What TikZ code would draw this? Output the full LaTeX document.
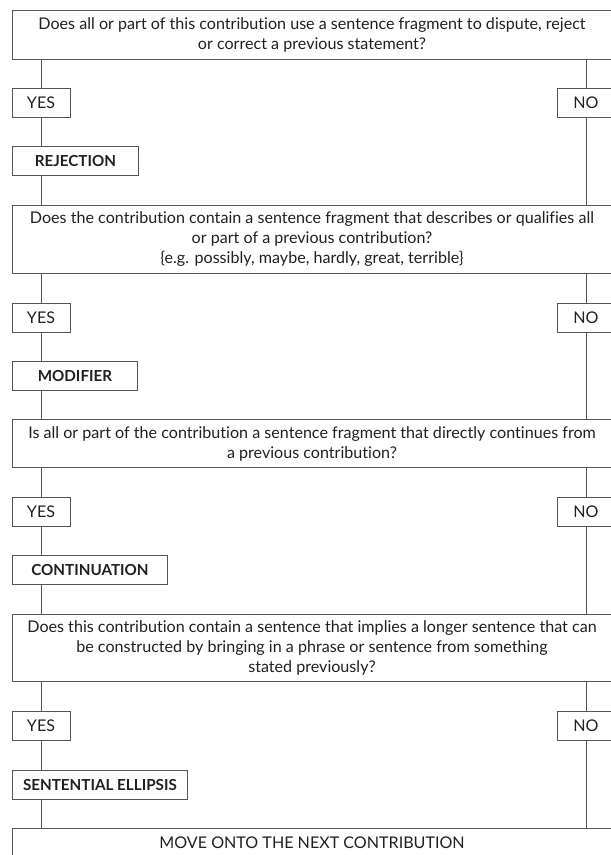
\documentclass[tikz,border=0pt]{standalone}
\usepackage{fontspec}
\setmainfont{Lato}[Ligatures=NoCommon]
\usetikzlibrary{positioning}
\definecolor{ink}{HTML}{231F20}
\definecolor{rule}{HTML}{555555}
\newcommand{\flowsize}{\fontsize{16.1}{20}\selectfont}
\tikzset{
	box/.style={draw=rule, line width=0.9pt, text=ink, inner sep=0pt},
	question/.style={box, align=center, minimum width=600pt},
	answer/.style={box, minimum width=58pt, minimum height=29pt},
	outcome/.style={box, anchor=west, minimum height=29pt, font=\fontsize{15.2}{20}\selectfont\bfseries},
	link/.style={draw=rule, line width=0.9pt}
}

\begin{document}
\begin{tikzpicture}
		[x=1pt, y=-1pt, font=\flowsize]
		\useasboundingbox (0,0) rectangle (611,855);
		% questions
		\node[question, minimum height=48.6pt] (Q1) at (312,35)
			{Does all or part of this contribution use a sentence fragment to dispute, reject\\or correct a previous statement?};
		\node[question, minimum height=68pt] (Q2) at (312,239)
			{Does the contribution contain a sentence fragment that describes or qualifies all\\or part of a previous contribution?\\\{e.g. possibly, maybe, hardly, great, terrible\}};
		\node[question, minimum height=48.4pt] (Q3) at (312,443.5)
			{Is all or part of the contribution a sentence fragment that directly continues from\\a previous contribution?};
		\node[question, minimum height=67.4pt] (Q4) at (312,648)
			{Does this contribution contain a sentence that implies a longer sentence that can\\be constructed by bringing in a phrase or sentence from something\\stated previously?};
		\node[question, minimum height=30pt] (E) at (312,843) {MOVE ONTO THE NEXT CONTRIBUTION};
		% answers
		\node[answer] (Y1) at (41,102.5) {YES};
		\node[answer] (N1) at (586,102.5) {NO};
		\node[answer] (Y2) at (41,317.5) {YES};
		\node[answer] (N2) at (586,317.5) {NO};
		\node[answer] (Y3) at (41,511.5) {YES};
		\node[answer] (N3) at (586,511.5) {NO};
		\node[answer] (Y4) at (41,725.5) {YES};
		\node[answer] (N4) at (586,725.5) {NO};
		% outcomes
		\node[outcome, minimum width=126pt] (R) at (12,161) {REJECTION};
		\node[outcome, minimum width=125pt] (M) at (12,375.5) {MODIFIER};
		\node[outcome, minimum width=155pt] (C) at (12,570) {CONTINUATION};
		\node[outcome, minimum width=175pt] (S) at (12,784.7) {SENTENTIAL ELLIPSIS};
		% left branch
		\draw[link] (Q1.south -| Y1) -- (Y1) (Y1) -- (R.north -| Y1) (R.south -| Y1) -- (Q2.north -| Y1);
		\draw[link] (Q2.south -| Y2) -- (Y2) (Y2) -- (M.north -| Y2) (M.south -| Y2) -- (Q3.north -| Y2);
		\draw[link] (Q3.south -| Y3) -- (Y3) (Y3) -- (C.north -| Y3) (C.south -| Y3) -- (Q4.north -| Y3);
		\draw[link] (Q4.south -| Y4) -- (Y4) (Y4) -- (S.north -| Y4) (S.south -| Y4) -- (E.north -| Y4);
		% right branch
		\draw[link] (Q1.south -| N1) -- (N1) (N1) -- (Q2.north -| N1);
		\draw[link] (Q2.south -| N2) -- (N2) (N2) -- (Q3.north -| N2);
		\draw[link] (Q3.south -| N3) -- (N3) (N3) -- (Q4.north -| N3);
		\draw[link] (Q4.south -| N4) -- (N4) (N4) -- (E.north -| N4);
	\end{tikzpicture}
\end{document}
